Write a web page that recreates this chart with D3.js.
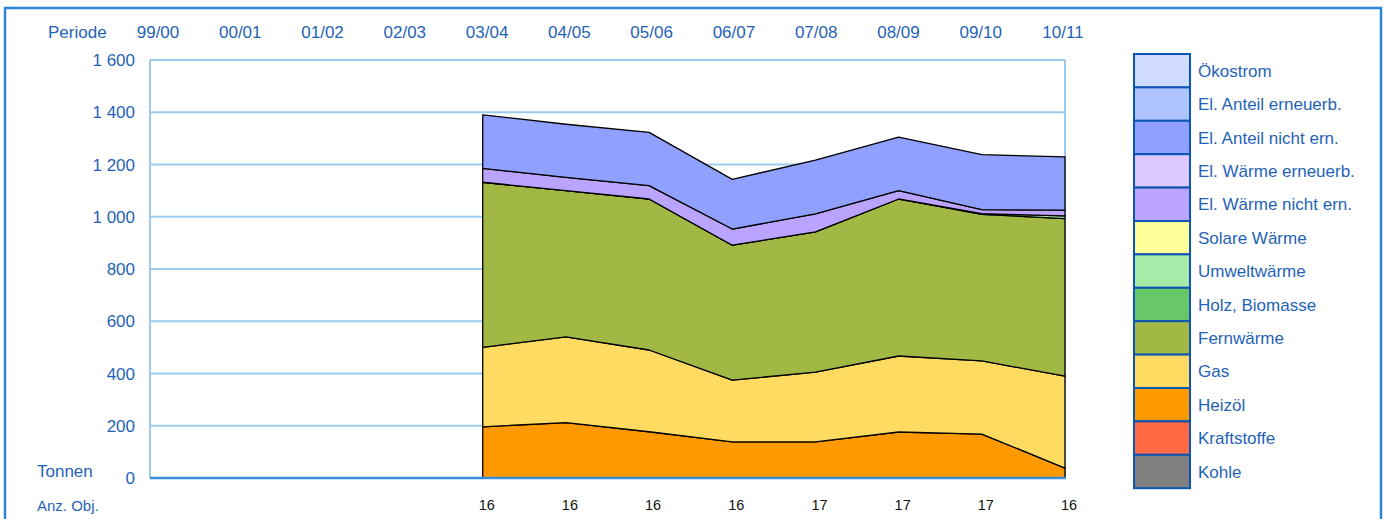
<!DOCTYPE html>
<html>
<head>
<meta charset="utf-8">
<script src="https://cdn.jsdelivr.net/npm/d3@7"></script>
<style>
  html, body { margin: 0; padding: 0; background: #fff; }
  svg { display: block; font-family: "Liberation Sans", Arial, sans-serif; }
</style>
</head>
<body>
<svg id="chart" width="1385" height="519"></svg>
<script>
const periods = ['99/00', '00/01', '01/02', '02/03', '03/04', '04/05', '05/06', '06/07', '07/08', '08/09', '09/10', '10/11'];
const objCounts = [null, null, null, null, 16, 16, 16, 16, 17, 17, 17, 16];
const yTicks = [0, 200, 400, 600, 800, 1000, 1200, 1400, 1600];

// series values in Tonnen (null = no data)
const kohle          = [null, null, null, null, 0, 0, 0, 0, 0, 0, 0, 0];
const kraftstoffe    = [null, null, null, null, 0, 0, 0, 0, 0, 0, 0, 0];
const heizoel        = [null, null, null, null, 196, 212, 177, 138, 138, 176, 168, 38];
const gas            = [null, null, null, null, 304, 328, 313, 237, 267, 291, 280, 352];
const fernwaerme     = [null, null, null, null, 632, 560, 578, 516, 537, 601, 561, 603];
const holz           = [null, null, null, null, 0, 0, 0, 0, 0, 0, 0, 0];
const umwelt         = [null, null, null, null, 0, 0, 0, 0, 0, 0, 3, 10];
const solar          = [null, null, null, null, 0, 0, 0, 0, 0, 0, 0, 0];
const elWaermeNicht  = [null, null, null, null, 53, 51, 51, 62, 69, 32, 15, 22];
const elWaermeErn    = [null, null, null, null, 0, 0, 0, 0, 0, 0, 0, 0];
const elAnteilNicht  = [null, null, null, null, 205, 203, 204, 190, 206, 205, 211, 204];
const elAnteilErn    = [null, null, null, null, 0, 0, 0, 0, 0, 0, 0, 0];
const oekostrom      = [null, null, null, null, 0, 0, 0, 0, 0, 0, 0, 0];

// bottom to top
const series = [
  { name: 'Kohle', values: kohle, color: '#808080' },
  { name: 'Kraftstoffe', values: kraftstoffe, color: '#FF6A45' },
  { name: 'Heizöl', values: heizoel, color: '#FF9900' },
  { name: 'Gas', values: gas, color: '#FFDB61' },
  { name: 'Fernwärme', values: fernwaerme, color: '#A2B845' },
  { name: 'Holz, Biomasse', values: holz, color: '#66C866' },
  { name: 'Umweltwärme', values: umwelt, color: '#A8EBA8' },
  { name: 'Solare Wärme', values: solar, color: '#FFFF99' },
  { name: 'El. Wärme nicht ern.', values: elWaermeNicht, color: '#BBA4FF' },
  { name: 'El. Wärme erneuerb.', values: elWaermeErn, color: '#DCC8FF' },
  { name: 'El. Anteil nicht ern.', values: elAnteilNicht, color: '#8FA0FF' },
  { name: 'El. Anteil erneuerb.', values: elAnteilErn, color: '#AFC4FF' },
  { name: 'Ökostrom', values: oekostrom, color: '#D0DCFF' }
];

const blue = '#1F63B8';
const FS = 17;
const svg = d3.select('#chart');

// outer frame
svg.append('rect').attr('x', 5).attr('y', 8).attr('width', 1376).attr('height', 530)
  .attr('fill', 'none').attr('stroke', '#2A85DC').attr('stroke-width', 2.5);

const m = { left: 150, right: 1065, top: 60, bottom: 478 };
const x = d3.scalePoint().domain(periods).range([m.left, m.right]);
const y = d3.scaleLinear().domain([0, 1600]).range([m.bottom, m.top]);

// grid
const g = svg.append('g');
g.selectAll('line.grid').data(yTicks).join('line')
  .attr('class', 'grid')
  .attr('x1', m.left).attr('x2', m.right)
  .attr('y1', d => y(d)).attr('y2', d => y(d))
  .attr('stroke', '#9CCBF0').attr('stroke-width', 2);
g.append('line').attr('x1', m.left).attr('x2', m.left).attr('y1', m.top).attr('y2', m.bottom)
  .attr('stroke', '#9CCBF0').attr('stroke-width', 2);
g.append('line').attr('x1', m.right).attr('x2', m.right).attr('y1', m.top).attr('y2', m.bottom)
  .attr('stroke', '#9CCBF0').attr('stroke-width', 2);

// stacked areas
const rows = periods.map((p, i) => {
  const r = { period: p, valid: series[0].values[i] != null };
  series.forEach(s => { r[s.name] = s.values[i] || 0; });
  return r;
}).filter(r => r.valid);

const stack = d3.stack().keys(series.map(s => s.name));
const layers = stack(rows);
const area = d3.area()
  .x(d => x(d.data.period))
  .y0(d => y(d[0]))
  .y1(d => y(d[1]));

svg.append('g').selectAll('path').data(layers).join('path')
  .filter(l => d3.sum(l, d => d[1] - d[0]) > 0)
  .attr('d', area)
  .attr('fill', l => series.find(s => s.name === l.key).color)
  .attr('stroke', '#000').attr('stroke-width', 1.3).attr('stroke-linejoin', 'round');

// x axis line
svg.append('line').attr('x1', m.left).attr('x2', m.right + 1).attr('y1', m.bottom).attr('y2', m.bottom)
  .attr('stroke', '#3A8EDC').attr('stroke-width', 2.5);

// y labels
svg.append('g').selectAll('text').data(yTicks).join('text')
  .attr('x', 135).attr('y', d => y(d) + 6)
  .attr('text-anchor', 'end').attr('font-size', FS).attr('fill', blue)
  .text(d => d3.format(',')(d).replace(',', ' '));

svg.append('text').attr('x', 37).attr('y', 477).attr('font-size', FS).attr('fill', blue).text('Tonnen');
svg.append('text').attr('x', 37).attr('y', 511).attr('font-size', 15).attr('fill', blue).text('Anz. Obj.');
svg.append('text').attr('x', 48).attr('y', 38).attr('font-size', FS).attr('fill', blue).text('Periode');

// period labels on top
const xTop = d3.scalePoint().domain(periods).range([158, 1063]);
svg.append('g').selectAll('text').data(periods).join('text')
  .attr('x', d => xTop(d)).attr('y', 38)
  .attr('text-anchor', 'middle').attr('font-size', FS).attr('fill', blue)
  .text(d => d);

// object counts
svg.append('g').selectAll('text').data(periods.map((p, i) => ({ p, n: objCounts[i] })).filter(d => d.n != null)).join('text')
  .attr('x', d => x(d.p) + 4).attr('y', 510)
  .attr('text-anchor', 'middle').attr('font-size', 14.5).attr('fill', '#111')
  .text(d => d.n);

// legend
const legend = series.slice().reverse();
const lg = svg.append('g').attr('transform', 'translate(1134,54)');
const rowH = 33.4;
lg.selectAll('rect').data(legend).join('rect')
  .attr('x', 0).attr('y', (d, i) => i * rowH)
  .attr('width', 56).attr('height', rowH)
  .attr('fill', d => d.color)
  .attr('stroke', '#0B55B5').attr('stroke-width', 2);
lg.selectAll('text').data(legend).join('text')
  .attr('x', 64).attr('y', (d, i) => i * rowH + rowH / 2 + 6)
  .attr('font-size', FS).attr('fill', blue)
  .text(d => d.name);
</script>
</body>
</html>
